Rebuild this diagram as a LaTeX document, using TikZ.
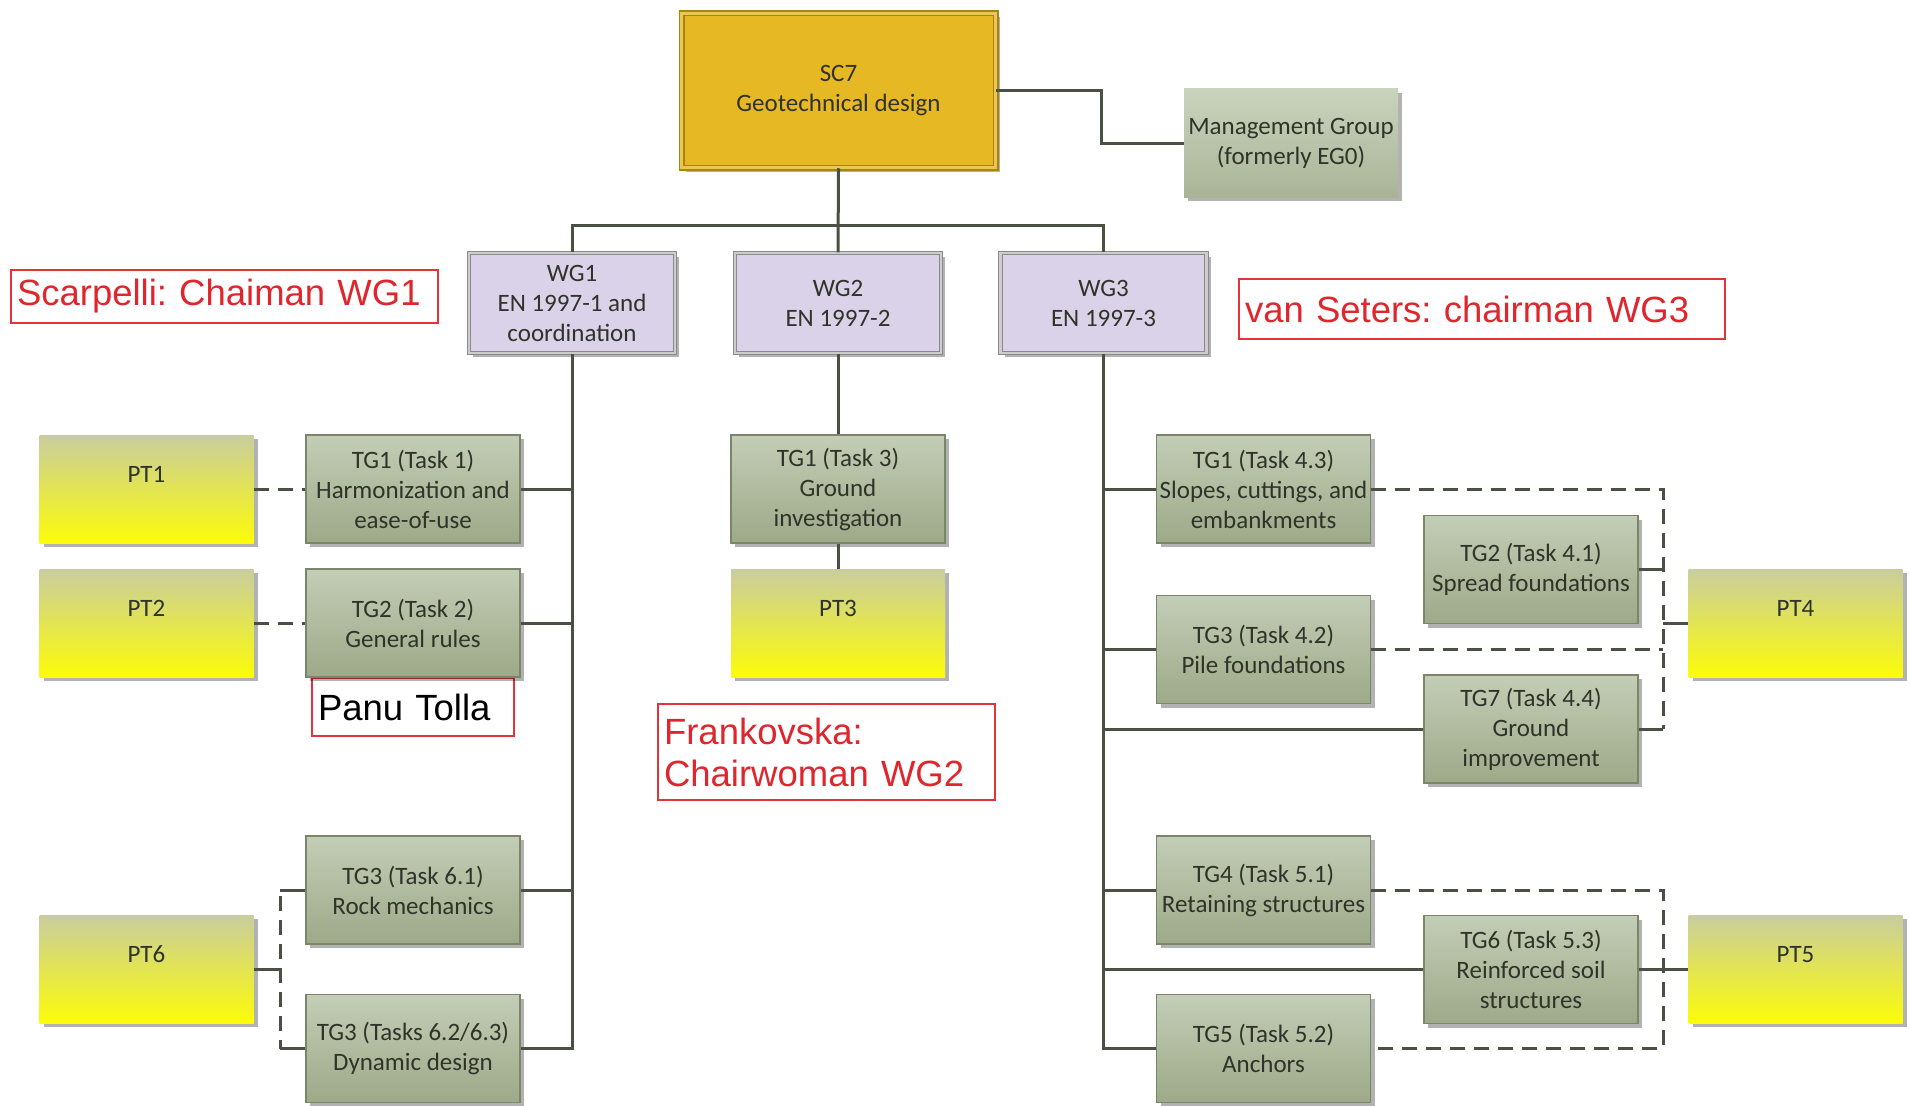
\documentclass[tikz,border=0pt]{standalone}
\usepackage{fontspec}
\setmainfont{Carlito}
\newfontfamily\arialf{Liberation Sans}
\usetikzlibrary{shadows,calc}
\definecolor{lnc}{HTML}{4B5044}
\definecolor{txt}{HTML}{2F3329}
\definecolor{tgt}{HTML}{C4CDB6}
\definecolor{tgb}{HTML}{9DA988}
\definecolor{tgd}{HTML}{7A8569}
\definecolor{mgt}{HTML}{CAD3BD}
\definecolor{mgb}{HTML}{A9B497}
\definecolor{ptt}{HTML}{C9CD9E}
\definecolor{ptb}{HTML}{FCFC08}
\definecolor{wgf}{HTML}{D9D2E8}
\definecolor{wgd}{HTML}{8A8A8A}
\definecolor{wgl}{HTML}{CDCDCD}
\definecolor{scf}{HTML}{E6B824}
\definecolor{scd}{HTML}{A88417}
\definecolor{scl}{HTML}{EBC650}
\definecolor{redc}{HTML}{E2343A}
\definecolor{redt}{HTML}{E0262D}
\frenchspacing
\begin{document}
\begin{tikzpicture}[x=1pt,y=-1pt,
  box/.style={rectangle, inner sep=0pt, align=center, text=txt,
    font=\fontsize{25}{30}\selectfont,
    drop shadow={shadow xshift=4pt, shadow yshift=-4pt, fill=black, opacity=0.3},
    minimum width=214pt, minimum height=108pt},
  tgbox/.style={box, draw=tgd, line width=1.2pt, top color=tgt, bottom color=tgb},
  ptbox/.style={box, draw=none, top color=ptt, bottom color=ptb},
  mgbox/.style={box, draw=none, top color=mgt, bottom color=mgb},
  wgbox/.style={box, fill=wgf, draw=wgd, double=wgl, double distance=2.5pt,
    line width=1.2pt, minimum width=206pt, minimum height=100pt},
  scbox/.style={box, fill=scf, draw=scd, double=scl, double distance=3pt,
    line width=1.5pt, minimum width=314pt, minimum height=154pt},
  redbox/.style={rectangle, draw=redc, line width=2.5pt, text=redt,
    font=\arialf\fontsize{36.5}{42}\selectfont, align=left,
    inner xsep=6pt, inner ysep=0pt},
  link/.style={draw=lnc, line width=3pt},
  dsh/.style={link, dash pattern=on 15pt off 9pt}
]
\useasboundingbox[fill=white] (0,0) rectangle (1910,1105);

% top
\node[scbox] (sc7) at (838.5,90.5) {SC7\\Geotechnical design};
\node[mgbox] (mg) at (1291,143) {Management Group\\(formerly EG0)};

% working groups
\node[wgbox] (wg1) at (572,303) {WG1\\EN 1997-1 and\\coordination};
\node[wgbox] (wg2) at (838,303) {WG2\\EN 1997-2};
\node[wgbox] (wg3) at (1103.5,303) {WG3\\EN 1997-3};

% red annotations
\node[redbox, text width=415pt, minimum height=53pt] (scarp) at (224.5,296.5) {Scarpelli: Chaiman WG1};
\node[redbox, text width=474pt, minimum height=60pt] (vans) at (1482,309) {van Seters: chairman WG3};
\node[redbox, text width=190pt, minimum height=58pt, text=black] (panu) at (413,707) {Panu Tolla};
\node[redbox, text width=325pt, minimum height=96pt] (frank) at (826.5,752) {Frankovska:\\Chairwoman WG2};

% left column
\node[ptbox] (pt1) at (146.5,489) {PT1\\\mbox{}};
\node[ptbox] (pt2) at (146.5,623) {PT2\\\mbox{}};
\node[ptbox] (pt6) at (146.5,969) {PT6\\\mbox{}};
\node[tgbox] (tg11) at (413,489) {TG1 (Task 1)\\Harmonization and\\ease-of-use};
\node[tgbox] (tg12) at (413,623) {TG2 (Task 2)\\General rules};
\node[tgbox] (tg31) at (413,890) {TG3 (Task 6.1)\\Rock mechanics};
\node[tgbox] (tg32) at (413,1048.5) {TG3 (Tasks 6.2/6.3)\\Dynamic design};

% middle column
\node[tgbox] (tg13) at (838,489) {TG1 (Task 3)\\Ground\\investigation};
\node[ptbox] (pt3) at (838,623) {PT3\\\mbox{}};

% right column
\node[tgbox] (tg43) at (1263.5,489) {TG1 (Task 4.3)\\Slopes, cuttings, and\\embankments};
\node[tgbox] (tg42) at (1263.5,649.5) {TG3 (Task 4.2)\\Pile foundations};
\node[tgbox] (tg41) at (1531,569.5) {TG2 (Task 4.1)\\Spread foundations};
\node[tgbox] (tg44) at (1531,729) {TG7 (Task 4.4)\\Ground\\improvement};
\node[ptbox] (pt4) at (1795.5,623) {PT4\\\mbox{}};
\node[tgbox] (tg51) at (1263.5,890) {TG4 (Task 5.1)\\Retaining structures};
\node[tgbox] (tg52) at (1263.5,1048.5) {TG5 (Task 5.2)\\Anchors};
\node[tgbox] (tg53) at (1531,969.5) {TG6 (Task 5.3)\\Reinforced soil\\structures};
\node[ptbox] (pt5) at (1795.5,969) {PT5\\\mbox{}};

% connectors: top
\draw[link] (sc7.east) -- ++(105,0) |- (mg.west);
\draw[link] (sc7.south) -- (wg2.north);
\draw[link] (wg1.north) -- ++(0,-27) -| (wg3.north);

% connectors: WG1
\draw[link] (wg1.south) |- (tg32.east);
\draw[link] (tg11.east) -- (tg11.east -| wg1.south);
\draw[link] (tg12.east) -- (tg12.east -| wg1.south);
\draw[link] (tg31.east) -- (tg31.east -| wg1.south);
\draw[dsh] (pt1.east) -- (tg11.west);
\draw[dsh] (pt2.east) -- (tg12.west);
\coordinate (l6t) at (280,890);
\coordinate (l6b) at (280,1048.5);
\draw[link] (l6t) -- (tg31.west);
\draw[link] (l6b) -- (tg32.west);
\draw[dsh, dash phase=-6pt] (l6t) -- (l6b);
\draw[link] (pt6.east) -- (pt6.east -| l6t);

% connectors: WG2
\draw[link] (wg2.south) -- (tg13.north);
\draw[link] (tg13.south) -- (pt3.north);

% connectors: WG3
\draw[link] (wg3.south) |- (tg52.west);
\draw[link] (tg43.west) -- (tg43.west -| wg3.south);
\draw[link] (tg42.west) -- (tg42.west -| wg3.south);
\draw[link] (tg44.west) -- (tg44.west -| wg3.south);
\draw[link] (tg51.west) -- (tg51.west -| wg3.south);
\draw[link] (tg53.west) -- (tg53.west -| wg3.south);

\coordinate (r4t) at (1663,489);
\coordinate (r4b) at (1663,729);
\draw[dsh] (tg43.east) -- (r4t) -- (r4b);
\draw[dsh] (tg42.east) -- (tg42.east -| r4t);
\draw[link] (tg41.east) -- (tg41.east -| r4t);
\draw[link] (tg44.east) -- (r4b);
\draw[link] (pt4.west) -- (pt4.west -| r4t);

\coordinate (r5t) at (1663,890);
\coordinate (r5b) at (1663,1048.5);
\draw[dsh] (tg51.east) -- (r5t) -- (r5b) -- (tg52.east);
\draw[link] (tg53.east) -- (tg53.east -| r5t);
\draw[link] (pt5.west) -- (pt5.west -| r5t);
\end{tikzpicture}
\end{document}
